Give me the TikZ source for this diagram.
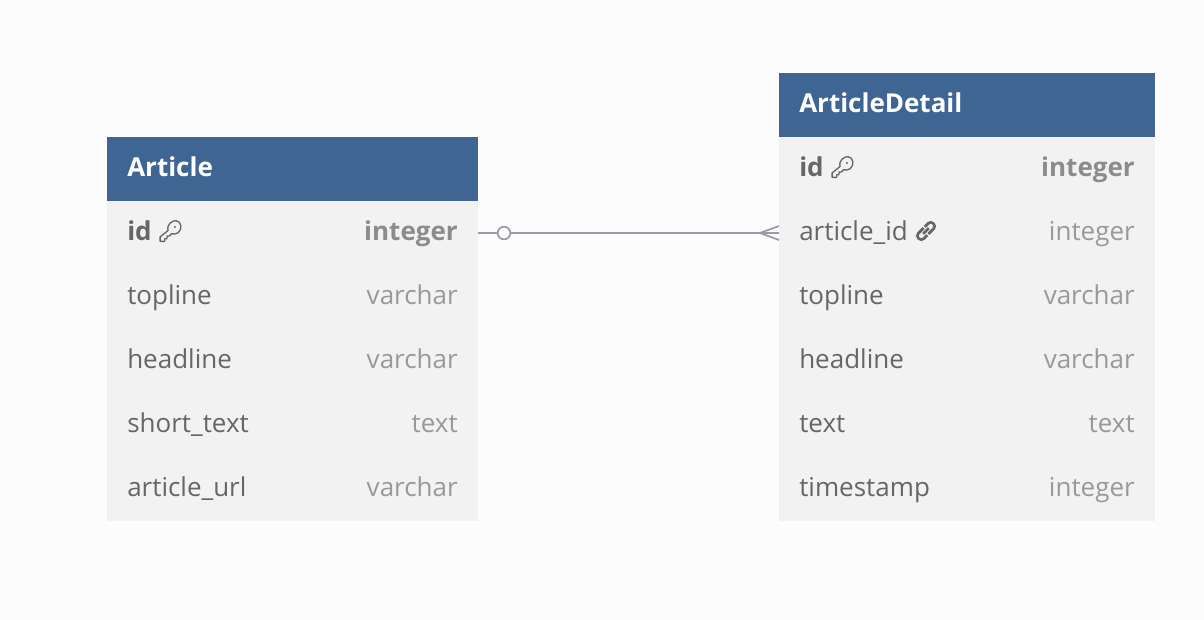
\documentclass[tikz,border=0pt]{standalone}
\usepackage{fontspec}
\setmainfont{Open Sans}
\usepackage{tikz}
\usetikzlibrary{positioning}
\definecolor{pagebg}{HTML}{FCFCFC}
\definecolor{headblue}{HTML}{3F6592}
\definecolor{rowgrey}{HTML}{F2F2F2}
\definecolor{namegrey}{HTML}{666666}
\definecolor{typegrey}{HTML}{999999}
\definecolor{idtypegrey}{HTML}{8C8C8C}
\definecolor{linegrey}{HTML}{9A9AA8}
\tikzset{
    tablehead/.style={fill=headblue,draw=none,inner sep=0,outer sep=0,minimum height=48pt},
    tablerow/.style={fill=rowgrey,draw=none,inner sep=0,outer sep=0,minimum height=48pt},
    headname/.style={anchor=west,xshift=15pt,yshift=1.6pt,inner sep=0,text=white,font=\fontsize{19.5}{21}\selectfont\bfseries},
    fieldname/.style={anchor=west,xshift=15pt,yshift=-.9pt,inner sep=0,text=namegrey,text height=14pt,text depth=4pt,font=\fontsize{19.5}{21}\selectfont},
    fieldtype/.style={anchor=east,xshift=-15pt,yshift=-.9pt,inner sep=0,text=typegrey,text height=14pt,text depth=4pt,font=\fontsize{19.5}{21}\selectfont},
    keyname/.style={fieldname,font=\fontsize{19.5}{21}\selectfont\bfseries},
    keytype/.style={fieldtype,text=idtypegrey,font=\fontsize{19.5}{21}\selectfont\bfseries},
    relation/.style={draw=linegrey,line width=1.3pt},
    keyicon/.pic={
        \draw[namegrey,line width=1pt,line join=round,scale=1.1]
            (-9,9.4) -- (-9,5.4) -- (-1.8,-.4) .. controls (-3.2,-6.6) and (2.6,-9.6) .. (5.4,-9.4)
            .. controls (10.6,-9) and (11.4,-1.4) .. (7.4,1.6) .. controls (5.4,3) and (3,3) .. (1.6,2.4)
            -- (-.6,4.6) -- (-2.8,4.6) -- (-2.8,7) -- (-4.8,7) -- (-4.8,9.4) -- cycle;
        \fill[namegrey] (5,-4) circle (1.2);
    },
    linkicon/.pic={
        \begin{scope}[rotate=45]
            \draw[namegrey,line width=2pt,rounded corners=2.6pt]
                (.5,-3.8) -- (-10.5,-3.8) -- (-10.5,3.8) -- (-2,3.8) (-4,0) -- (4,0);
            \draw[namegrey,line width=2pt,rounded corners=2.6pt]
                (-.5,3.8) -- (10.5,3.8) -- (10.5,-3.8) -- (2,-3.8);
        \end{scope}
    },
}
\begin{document}
\begin{tikzpicture}[x=.75pt,y=-.75pt]
    \useasboundingbox[fill=pagebg] (0,0) rectangle (1204,620);
%
    \node[tablehead,minimum width=278.25pt,anchor=north west] (art) at (107,137) {};
    \node[headname] (arttitle) at (art.west) {Article};
    \node[tablerow,minimum width=278.25pt,below=0pt of art] (artid) {};
    \node[tablerow,minimum width=278.25pt,below=0pt of artid] (arttop) {};
    \node[tablerow,minimum width=278.25pt,below=0pt of arttop] (arthead) {};
    \node[tablerow,minimum width=278.25pt,below=0pt of arthead] (artshort) {};
    \node[tablerow,minimum width=278.25pt,below=0pt of artshort] (arturl) {};
    \node[keyname] (artidname) at (artid.west) {id};
    \node[keytype] (artidtype) at (artid.east) {integer};
    \node[fieldname] (arttopname) at (arttop.west) {topline};
    \node[fieldtype] (arttoptype) at (arttop.east) {varchar};
    \node[fieldname] (artheadname) at (arthead.west) {headline};
    \node[fieldtype] (artheadtype) at (arthead.east) {varchar};
    \node[fieldname] (artshortname) at (artshort.west) {short\_text};
    \node[fieldtype] (artshorttype) at (artshort.east) {text};
    \node[fieldname] (arturlname) at (arturl.west) {article\_url};
    \node[fieldtype] (arturltype) at (arturl.east) {varchar};
    \pic at (170,231) {keyicon};
%
    \node[tablehead,minimum width=282pt,anchor=north west] (det) at (779,73) {};
    \node[headname] (dettitle) at (det.west) {ArticleDetail};
    \node[tablerow,minimum width=282pt,below=0pt of det] (detid) {};
    \node[tablerow,minimum width=282pt,below=0pt of detid] (detaid) {};
    \node[tablerow,minimum width=282pt,below=0pt of detaid] (dettop) {};
    \node[tablerow,minimum width=282pt,below=0pt of dettop] (dethead) {};
    \node[tablerow,minimum width=282pt,below=0pt of dethead] (dettext) {};
    \node[tablerow,minimum width=282pt,below=0pt of dettext] (detstamp) {};
    \node[keyname] (detidname) at (detid.west) {id};
    \node[keytype] (detidtype) at (detid.east) {integer};
    \node[fieldname] (detaidname) at (detaid.west) {article\_id};
    \node[fieldtype] (detaidtype) at (detaid.east) {integer};
    \node[fieldname] (dettopname) at (dettop.west) {topline};
    \node[fieldtype] (dettoptype) at (dettop.east) {varchar};
    \node[fieldname] (detheadname) at (dethead.west) {headline};
    \node[fieldtype] (detheadtype) at (dethead.east) {varchar};
    \node[fieldname] (dettextname) at (dettext.west) {text};
    \node[fieldtype] (dettexttype) at (dettext.east) {text};
    \node[fieldname] (detstampname) at (detstamp.west) {timestamp};
    \node[fieldtype] (detstamptype) at (detstamp.east) {integer};
    \pic at (842,167) {keyicon};
    \pic at (926,231) {linkicon};
%
    \coordinate (crowtip) at ([xshift=-14.25pt]detaid.west);
    \draw[relation] (artid.east) -- (detaid.west);
    \draw[relation] (crowtip) -- ([yshift=5.25pt]detaid.west);
    \draw[relation] (crowtip) -- ([yshift=-5.25pt]detaid.west);
    \node[draw=linegrey,line width=1.3pt,fill=pagebg,circle,inner sep=0,minimum size=9.5pt] (zero) at ([xshift=19.5pt]artid.east) {};
\end{tikzpicture}
\end{document}
